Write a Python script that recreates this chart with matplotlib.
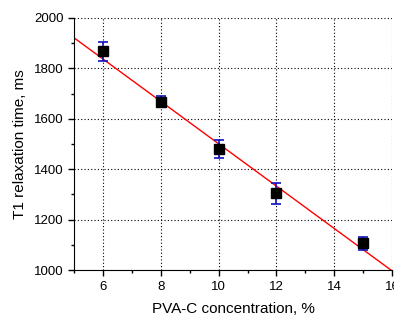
import matplotlib
matplotlib.use("Agg")
import matplotlib.pyplot as plt
from matplotlib.ticker import MultipleLocator

conc = [6, 8, 10, 12, 15]
t1 = [1868, 1667, 1480, 1304, 1107]
t1_err = [37, 22, 34, 41, 26]

fit_x = [5.0, 16.0]
fit_y = [1921, 997]

plt.rcParams["font.family"] = ["Liberation Sans", "DejaVu Sans"]

fig = plt.figure(figsize=(3.94, 3.2), dpi=100)
ax = fig.add_axes([0.188, 0.156, 0.807, 0.788])

# grid first so data sits on top
ax.grid(True, color="black", linestyle=(0, (1, 2)), linewidth=0.8)
ax.set_axisbelow(True)

ax.plot(fit_x, fit_y, color="red", linewidth=1.0, zorder=2)
ax.errorbar(conc, t1, yerr=t1_err, fmt="s", color="black", markersize=7,
            ecolor="#1010c0", elinewidth=1.2, capsize=3.5, capthick=1.2, zorder=3)

ax.set_xlim(5, 16)
ax.set_ylim(1000, 2000)
ax.xaxis.set_major_locator(MultipleLocator(2))
ax.xaxis.set_minor_locator(MultipleLocator(1))
ax.yaxis.set_major_locator(MultipleLocator(200))
ax.yaxis.set_minor_locator(MultipleLocator(100))
ax.set_xticks([6, 8, 10, 12, 14, 16])

ax.spines["top"].set_visible(False)
ax.spines["right"].set_visible(False)
ax.tick_params(which="major", direction="out", length=4, width=1, labelsize=9.5)
ax.tick_params(which="minor", direction="out", length=2.5, width=1)
ax.tick_params(axis="x", pad=4)

ax.set_xlabel("PVA-C concentration, %", fontsize=11, labelpad=6)
ax.set_ylabel("T1 relaxation time, ms", fontsize=11, labelpad=5)

fig.savefig("out.png", dpi=100)
